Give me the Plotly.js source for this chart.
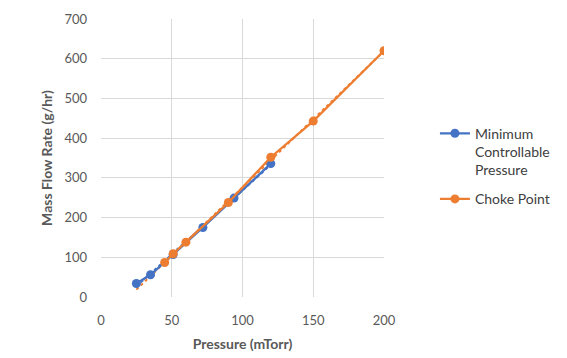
<!DOCTYPE html>
<html><head><meta charset="utf-8">
<script src="https://cdn.plot.ly/plotly-3.0.1.min.js"></script>
<style>html,body{margin:0;padding:0;background:#fff}#chart{width:567px;height:358px}</style>
</head><body><div id="chart"></div>
<script>
const minPressure = [25, 35, 51, 72, 94, 120];
const minFlow = [34, 56, 107, 175, 249, 336];
const chokePressure = [45, 51, 60, 90, 120, 150, 200];
const chokeFlow = [87, 109, 138, 238, 352, 443, 620];
const seriesNames = ["Minimum<br>Controllable<br>Pressure", "Choke Point"];
const blue = "#4472C4", orange = "#ED7D31";

function fit(xs, ys) {
  const n = xs.length;
  const mx = xs.reduce((a,b)=>a+b,0)/n, my = ys.reduce((a,b)=>a+b,0)/n;
  let sxy = 0, sxx = 0;
  for (let i=0;i<n;i++){ sxy += (xs[i]-mx)*(ys[i]-my); sxx += (xs[i]-mx)*(xs[i]-mx); }
  const m = sxy/sxx, b = my - m*mx;
  return x => m*x + b;
}
const fMin = fit(minPressure, minFlow);
const fChoke = fit(chokePressure, chokeFlow);
const minTrendX = [minPressure[0], minPressure[minPressure.length-1]];
const chokeTrendX = [minPressure[0], chokePressure[chokePressure.length-1]];

const font = "Lato, 'Liberation Sans', sans-serif";
const data = [
  {x: chokeTrendX, y: chokeTrendX.map(fChoke), mode: "lines", line: {color: orange, width: 2, dash: "dot"}, showlegend: false, hoverinfo: "skip"},
  {x: minTrendX, y: minTrendX.map(fMin), mode: "lines", line: {color: blue, width: 2, dash: "dot"}, showlegend: false, hoverinfo: "skip"},
  {x: minPressure, y: minFlow, name: seriesNames[0], legendgroup: "a", mode: "lines+markers", line: {color: blue, width: 2.25}, marker: {color: blue, size: 9}},
  {x: chokePressure, y: chokeFlow, name: seriesNames[1], legendgroup: "b", mode: "lines+markers", line: {color: orange, width: 2.25}, marker: {color: orange, size: 9}}
];
const axisCommon = {showgrid: true, gridcolor: "#d9d9d9", gridwidth: 1, zeroline: false, showline: false, ticks: "", tickfont: {family: font, size: 13, color: "#595959"}};
const layout = {
  width: 567, height: 358,
  margin: {l: 101, r: 183, t: 19, b: 61},
  paper_bgcolor: "#fff", plot_bgcolor: "#fff",
  font: {family: font, color: "#595959"},
  xaxis: Object.assign({}, axisCommon, {range: [0, 200], dtick: 50, tick0: 0, ticklabelstandoff: 14,
    title: {text: "<b>Pressure (mTorr)</b>", font: {family: font, size: 14, color: "#595959"}, standoff: 12}}),
  yaxis: Object.assign({}, axisCommon, {range: [0, 700], dtick: 100, tick0: 0, ticklabelstandoff: 13,
    title: {text: "<b>Mass Flow Rate (g/hr)</b>", font: {family: font, size: 14, color: "#595959"}, standoff: 8}}),
  legend: {x: 1.18, y: 0.645, xanchor: "left", yanchor: "top", valign: "top", font: {family: font, size: 14, color: "#404040"}, tracegroupgap: 8, bgcolor: "rgba(0,0,0,0)"},
  showlegend: true
};
Plotly.newPlot("chart", data, layout, {displayModeBar: false, staticPlot: true});
</script></body></html>
